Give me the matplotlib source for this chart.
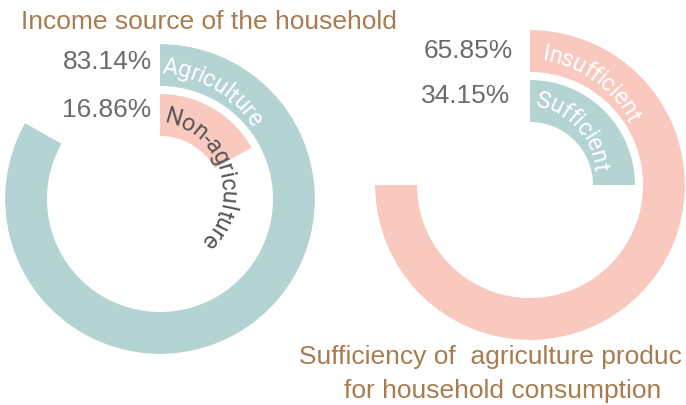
import numpy as np
import matplotlib
matplotlib.use("Agg")
import matplotlib.pyplot as plt
from matplotlib.font_manager import FontProperties

# Data
left_labels = ["Agriculture", "Non-agriculture"]
left_values = [83.14, 16.86]
right_labels = ["Insufficient", "Sufficient"]
right_values = [65.85, 34.15]
# the source draws the right rings at 3/4 and 1/4 of a turn
right_arc = [75.0, 25.0]

teal = "#B4D3D3"
pink = "#F9C9BF"
brown = "#A97C50"
grey = "#6B6B6B"

W, H = 686, 406
fig = plt.figure(figsize=(W / 100, H / 100), dpi=100)
renderer = fig.canvas.get_renderer()


def ring_axes(cx, cy, R):
    # cx, cy in pixels from top-left
    ax = fig.add_axes([(cx - R) / W, (H - cy - R) / H, 2 * R / W, 2 * R / H],
                      projection="polar")
    ax.set_theta_zero_location("N")
    ax.set_theta_direction(-1)
    ax.set_ylim(0, R)
    ax.axis("off")
    return ax


outer_r, inner_r, band = 113, 63, 42

# ---- left chart ----
axl = ring_axes(160, 200, 155)
axl.bar(0, band, width=2 * np.pi * left_values[0] / 100, bottom=outer_r,
        align="edge", color=teal, linewidth=0)
axl.bar(0, band, width=2 * np.pi * left_values[1] / 100, bottom=inner_r,
        align="edge", color=pink, linewidth=0)

# ---- right chart ----
axr = ring_axes(530, 186, 155)
axr.bar(0, band, width=2 * np.pi * right_arc[0] / 100, bottom=outer_r,
        align="edge", color=pink, linewidth=0)
axr.bar(0, band, width=2 * np.pi * right_arc[1] / 100, bottom=inner_r,
        align="edge", color=teal, linewidth=0)

# overlay in pixel coordinates for the curved labels
ov = fig.add_axes([0, 0, 1, 1])
ov.set_xlim(0, W)
ov.set_ylim(H, 0)
ov.axis("off")


def arc_text(text, cx, cy, r, start_deg, size, color, family="Roboto", track=0.94):
    prop = FontProperties(family=family, size=size)

    def tw(s):
        if not s:
            return 0.0
        return renderer.get_text_width_height_descent(s, prop, ismath=False)[0] * track

    s0 = np.deg2rad(start_deg) * r
    for i, ch in enumerate(text):
        mid = s0 + (tw(text[:i]) + tw(text[:i + 1])) / 2
        th = mid / r
        ov.text(cx + r * np.sin(th), cy - r * np.cos(th), ch,
                rotation=-np.rad2deg(th), rotation_mode="anchor",
                ha="center", va="baseline", fontproperties=prop, color=color)


arc_text(left_labels[0], 152, 191, 118, 5, 17, "white")
arc_text(left_labels[1], 152, 191, 69, 10, 17, "#555555")
arc_text(right_labels[0], 522, 177, 119, 9.5, 17, "white")
arc_text(right_labels[1], 522, 177, 72, 10, 17, "white")

# percentages and titles
pct_font = dict(family="Liberation Sans", size=19, color=grey, ha="right", va="center")
fig.text(152 / W, 1 - 62 / H, f"{left_values[0]:.2f}%", **pct_font)
fig.text(151 / W, 1 - 110 / H, f"{left_values[1]:.2f}%", **pct_font)
fig.text(513 / W, 1 - 51 / H, f"{right_values[0]:.2f}%", **pct_font)
fig.text(510 / W, 1 - 96 / H, f"{right_values[1]:.2f}%", **pct_font)

title_font = dict(family="Liberation Sans", size=19, color=brown, va="center")
fig.text(21 / W, 1 - 22 / H, "Income source of the household", ha="left", **title_font)
fig.text(299 / W, 1 - 357 / H, "Sufficiency of  agriculture produc", ha="left", **title_font)
fig.text(503 / W, 1 - 391 / H, "for household consumption", ha="center", **title_font)

fig.savefig("out.png", dpi=100)
